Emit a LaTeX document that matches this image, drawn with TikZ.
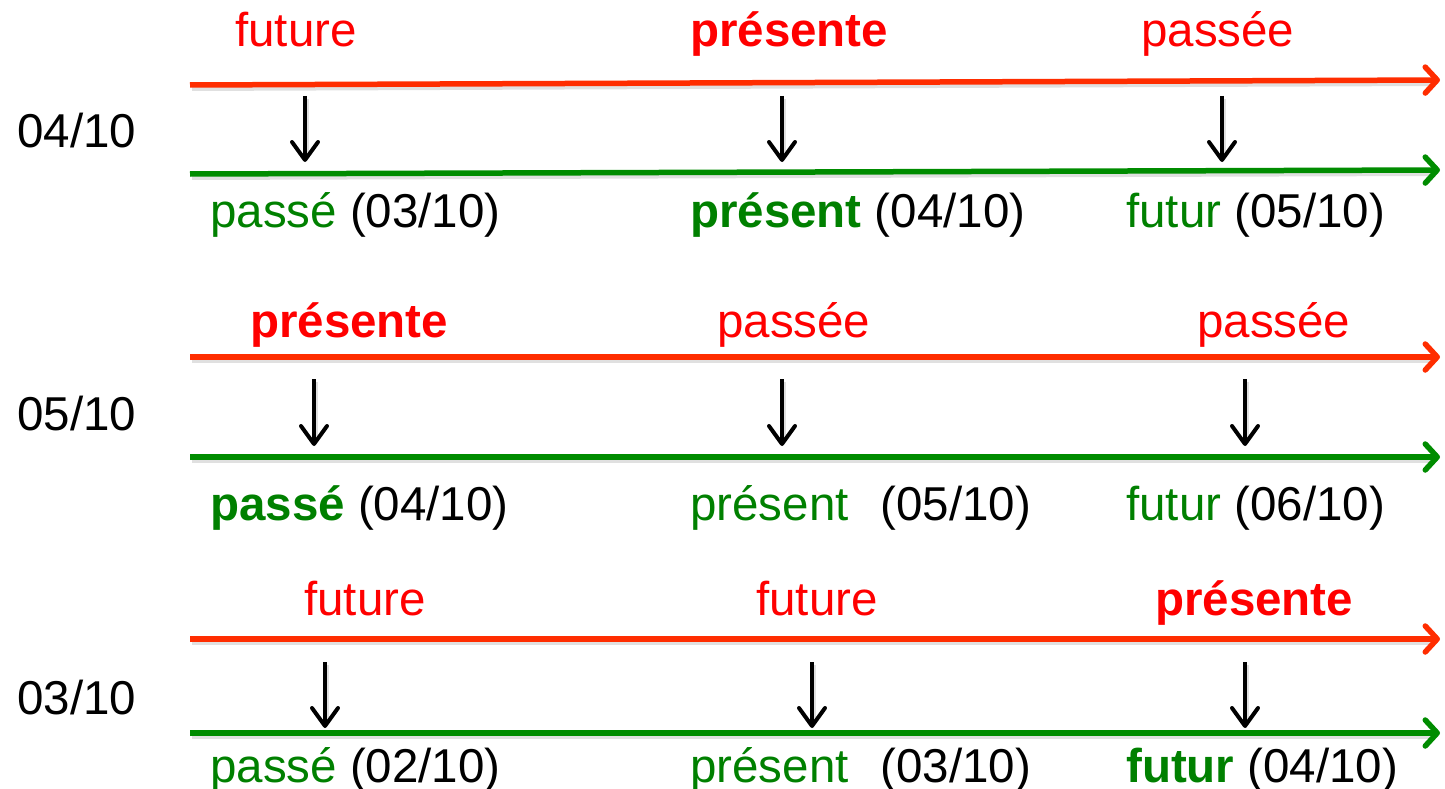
\documentclass[tikz,border=0pt]{standalone}
\usepackage{fontspec}
\setmainfont{Liberation Sans}
\usetikzlibrary{arrows.meta}

\definecolor{axisred}{HTML}{FF2D00}
\definecolor{axisgreen}{HTML}{008C00}
\definecolor{txtred}{HTML}{FF0000}
\definecolor{txtgreen}{HTML}{008000}

\newcommand\greenword[1]{\textcolor{txtgreen}{#1}}
\newcommand\greenbold[1]{\textcolor{txtgreen}{\bfseries #1}}

\begin{document}
\begin{tikzpicture}[x=1pt,y=-1pt,
  lbl/.style={anchor=base west, inner sep=0pt, font=\fontsize{47.5}{57}\selectfont},
  redlbl/.style={lbl, text=txtred},
  redbold/.style={redlbl, font=\fontsize{47.5}{57}\selectfont\bfseries},
  axisline/.style={line width=5.5pt, -{Straight Barb[length=12pt,width=26pt,round]}},
  redaxis/.style={axisline, draw=axisred},
  greenaxis/.style={axisline, draw=axisgreen},
  shadowline/.style={draw=black, opacity=0.12, line width=6pt},
  maparrow/.style={draw=black, line width=4pt, -{Straight Barb[length=18pt,width=26pt,round]}},
  mapshadow/.style={draw=black, opacity=0.12, line width=4.5pt}
]
\useasboundingbox (0,0) rectangle (1445,789);

% ---------- axis end points ----------
\coordinate (r1s) at (190,85);  \coordinate (r1e) at (1440,80);
\coordinate (g1s) at (190,174); \coordinate (g1e) at (1440,170);
\coordinate (r2s) at (190,357); \coordinate (r2e) at (1440,357);
\coordinate (g2s) at (190,457); \coordinate (g2e) at (1440,457);
\coordinate (r3s) at (190,639); \coordinate (r3e) at (1440,639);
\coordinate (g3s) at (190,733); \coordinate (g3e) at (1440,733);

% ---------- mapping arrow end points ----------
\foreach \n/\x/\ya/\yb in {a1/305/96/162, b1/782/96/162, c1/1222/96/162,
                           a2/314/379/446, b2/782/379/446, c2/1245/379/446,
                           a3/325/662/728, b3/812/662/728, c3/1245/662/728}{
  \coordinate (\n top) at (\x,\ya);
  \coordinate (\n bot) at (\x,\yb);
}

% ---------- soft shadows ----------
\foreach \p in {r1,g1,r2,g2,r3,g3}{
  \draw[shadowline] ([shift={(2,3)}]\p s) -- ([shift={(-6,3)}]\p e);
}
\foreach \n in {a1,b1,c1,a2,b2,c2,a3,b3,c3}{
  \draw[mapshadow] ([shift={(2,3)}]\n top) -- ([shift={(2,-6)}]\n bot);
}

% ---------- axes ----------
\draw[redaxis]   (r1s) -- (r1e);
\draw[greenaxis] (g1s) -- (g1e);
\draw[redaxis]   (r2s) -- (r2e);
\draw[greenaxis] (g2s) -- (g2e);
\draw[redaxis]   (r3s) -- (r3e);
\draw[greenaxis] (g3s) -- (g3e);

% ---------- mapping arrows ----------
\foreach \n in {a1,b1,c1,a2,b2,c2,a3,b3,c3}{
  \draw[maparrow] (\n top) -- (\n bot);
}

% ---------- dates ----------
\node[lbl] (d1) at (17,147) {04/10};
\node[lbl] (d2) at (17,430) {05/10};
\node[lbl] (d3) at (17,714) {03/10};

% ---------- row 1 ----------
\node[redlbl]  (t1a) at (235,47)  {future};
\node[redbold] (t1b) at (690,47)  {présente};
\node[redlbl]  (t1c) at (1141,47) {passée};
\node[lbl] (u1a) at (210,227)  {\greenword{passé} (03/10)};
\node[lbl] (u1b) at (690,227)  {\greenbold{présent} (04/10)};
\node[lbl] (u1c) at (1126,227) {\greenword{futur} (05/10)};

% ---------- row 2 ----------
\node[redbold] (t2a) at (250,337)  {présente};
\node[redlbl]  (t2b) at (717,337)  {passée};
\node[redlbl]  (t2c) at (1197,337) {passée};
\node[lbl] (u2a) at (210,520)  {\greenbold{passé} (04/10)};
\node[lbl] (u2b) at (690,520)  {\greenword{présent}\hspace{32pt}(05/10)};
\node[lbl] (u2c) at (1126,520) {\greenword{futur} (06/10)};

% ---------- row 3 ----------
\node[redlbl]  (t3a) at (304,615)  {future};
\node[redlbl]  (t3b) at (756,615)  {future};
\node[redbold] (t3c) at (1155,615) {présente};
\node[lbl] (u3a) at (210,782)  {\greenword{passé} (02/10)};
\node[lbl] (u3b) at (690,782)  {\greenword{présent}\hspace{32pt}(03/10)};
\node[lbl] (u3c) at (1126,782) {\greenbold{futur} (04/10)};
\end{tikzpicture}
\end{document}
